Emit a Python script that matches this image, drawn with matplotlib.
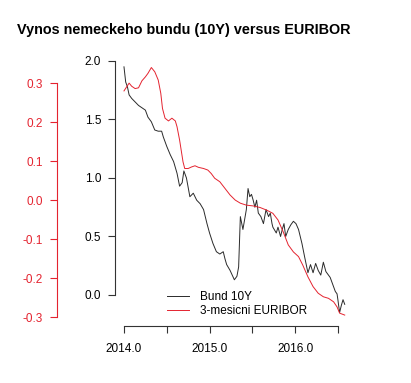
import matplotlib
matplotlib.use('Agg')
from matplotlib import pyplot as plt

plt.rcParams['font.family'] = ['Liberation Sans', 'DejaVu Sans']

# Bund 10Y (levy osa, cerna)
bund_rok = [2014.00, 2014.02, 2014.04, 2014.06, 2014.09, 2014.13, 2014.17, 2014.21, 2014.25, 2014.28,
            2014.32, 2014.36, 2014.40, 2014.44, 2014.46, 2014.50, 2014.54, 2014.58, 2014.62, 2014.65,
            2014.68, 2014.70, 2014.73, 2014.77, 2014.81, 2014.85, 2014.89, 2014.93, 2014.97, 2015.00,
            2015.04, 2015.08, 2015.12, 2015.16, 2015.18, 2015.20, 2015.24, 2015.29, 2015.32, 2015.34,
            2015.36, 2015.39, 2015.43, 2015.45, 2015.47, 2015.49, 2015.51, 2015.53, 2015.55, 2015.57,
            2015.60, 2015.63, 2015.66, 2015.69, 2015.71, 2015.73, 2015.74, 2015.78, 2015.80, 2015.83,
            2015.85, 2015.87, 2015.89, 2015.92, 2015.95, 2015.98, 2016.01, 2016.04, 2016.06, 2016.08,
            2016.11, 2016.15, 2016.18, 2016.21, 2016.24, 2016.27, 2016.30, 2016.33, 2016.36, 2016.39,
            2016.41, 2016.45, 2016.47, 2016.49, 2016.50, 2016.52, 2016.54, 2016.56, 2016.58]
bund = [1.95, 1.82, 1.78, 1.71, 1.68, 1.65, 1.62, 1.60, 1.58, 1.52,
        1.48, 1.41, 1.40, 1.40, 1.35, 1.27, 1.20, 1.14, 1.04, 0.93,
        0.96, 1.06, 1.00, 0.84, 0.87, 0.81, 0.78, 0.73, 0.61, 0.53,
        0.44, 0.37, 0.35, 0.37, 0.31, 0.26, 0.21, 0.13, 0.16, 0.24,
        0.67, 0.56, 0.73, 0.91, 0.84, 0.86, 0.81, 0.75, 0.81, 0.70,
        0.67, 0.61, 0.73, 0.67, 0.70, 0.61, 0.58, 0.53, 0.58, 0.50,
        0.56, 0.61, 0.50, 0.56, 0.60, 0.63, 0.61, 0.56, 0.50, 0.44,
        0.33, 0.19, 0.26, 0.19, 0.27, 0.21, 0.17, 0.28, 0.20, 0.17,
        0.15, 0.07, 0.03, 0.01, -0.04, -0.15, -0.09, -0.04, -0.08]

# 3-mesicni EURIBOR (druha osa, cervena)
eur_rok = [2014.00, 2014.03, 2014.06, 2014.09, 2014.13, 2014.17, 2014.21, 2014.25, 2014.28, 2014.32,
           2014.36, 2014.40, 2014.43, 2014.45, 2014.48, 2014.52, 2014.56, 2014.60, 2014.62, 2014.65,
           2014.69, 2014.71, 2014.75, 2014.79, 2014.83, 2014.87, 2014.93, 2014.98, 2015.02, 2015.06,
           2015.12, 2015.18, 2015.24, 2015.30, 2015.36, 2015.43, 2015.51, 2015.59, 2015.67, 2015.74,
           2015.80, 2015.86, 2015.92, 2015.98, 2016.04, 2016.09, 2016.15, 2016.21, 2016.27, 2016.33,
           2016.39, 2016.45, 2016.49, 2016.52, 2016.58]
euribor = [0.280, 0.290, 0.300, 0.292, 0.286, 0.288, 0.306, 0.316, 0.325, 0.340,
           0.329, 0.308, 0.274, 0.235, 0.210, 0.203, 0.210, 0.203, 0.188, 0.154,
           0.098, 0.081, 0.081, 0.085, 0.088, 0.084, 0.081, 0.077, 0.068, 0.056,
           0.047, 0.030, 0.013, 0.000, -0.008, -0.013, -0.015, -0.019, -0.026, -0.034,
           -0.051, -0.081, -0.115, -0.133, -0.145, -0.167, -0.197, -0.222, -0.239, -0.248,
           -0.252, -0.261, -0.274, -0.290, -0.295]

x_ticks = [2014.0, 2014.5, 2015.0, 2015.5, 2016.0, 2016.5]
x_labels = ['2014.0', '', '2015.0', '', '2016.0', '']
bund_ticks = [0.0, 0.5, 1.0, 1.5, 2.0]
eur_ticks = [-0.3, -0.2, -0.1, 0.0, 0.1, 0.2, 0.3]

cervena = '#e4232f'
seda = '#2a2a2a'
W, H = 411, 383

fig = plt.figure(figsize=(W / 100, H / 100), dpi=100)
ax = fig.add_axes([115 / W, 1 - 326 / H, 240 / W, 269 / H])

ax.plot(bund_rok, bund, color=seda, lw=0.7, label='Bund 10Y')
ax.set_xlim(2013.895, 2016.70)
ax.set_ylim(-0.265, 2.034)

# osy ve stylu R: bez ramecku, cary jen od prvni po posledni znacku
for s in ['top', 'right']:
    ax.spines[s].set_visible(False)
ax.spines['left'].set_bounds(0.0, 2.0)
ax.spines['bottom'].set_bounds(2014.0, 2016.5)
ax.spines['left'].set_color('#333333')
ax.spines['bottom'].set_color('#333333')
ax.set_xticks(x_ticks)
ax.set_xticklabels(x_labels)
ax.set_yticks(bund_ticks)
ax.set_yticklabels(['%.1f' % t for t in bund_ticks])
ax.tick_params(axis='both', length=5, width=0.8, color='#333333', labelsize=8.5)
ax.tick_params(axis='x', pad=7)
ax.tick_params(axis='y', pad=5)

ax2 = ax.twinx()
ax2.plot(eur_rok, euribor, color=cervena, lw=0.7, label='3-mesicni EURIBOR')
ax2.set_ylim(-0.323, 0.367)
for s in ['top', 'right', 'bottom']:
    ax2.spines[s].set_visible(False)
ax2.spines['left'].set_visible(True)
# 58 px doleva od cerne osy (v bodech)
ax2.spines['left'].set_position(('outward', 58 * 0.72))
ax2.spines['left'].set_bounds(-0.3, 0.3)
ax2.spines['left'].set_color(cervena)
ax2.yaxis.set_ticks_position('left')
ax2.yaxis.set_label_position('left')
ax2.set_yticks(eur_ticks)
ax2.set_yticklabels(['%.1f' % t for t in eur_ticks])
ax2.tick_params(axis='y', length=5, width=0.8, color=cervena, labelcolor=cervena,
                labelsize=8.5, pad=5)

# legenda bez ramecku
h1, l1 = ax.get_legend_handles_labels()
h2, l2 = ax2.get_legend_handles_labels()
ax2.legend(h1 + h2, l1 + l2, loc='upper left', bbox_to_anchor=(167 / W, 1 - 291 / H),
           bbox_transform=fig.transFigure, frameon=False, fontsize=8.5,
           borderpad=0, borderaxespad=0, handlelength=1.9, handletextpad=0.9,
           labelspacing=0.2)

fig.text(17 / W, 1 - 30 / H, 'Vynos nemeckeho bundu (10Y) versus EURIBOR',
         fontsize=10.4, fontweight='bold', ha='left', va='center')

plt.savefig('out.png', dpi=100)
